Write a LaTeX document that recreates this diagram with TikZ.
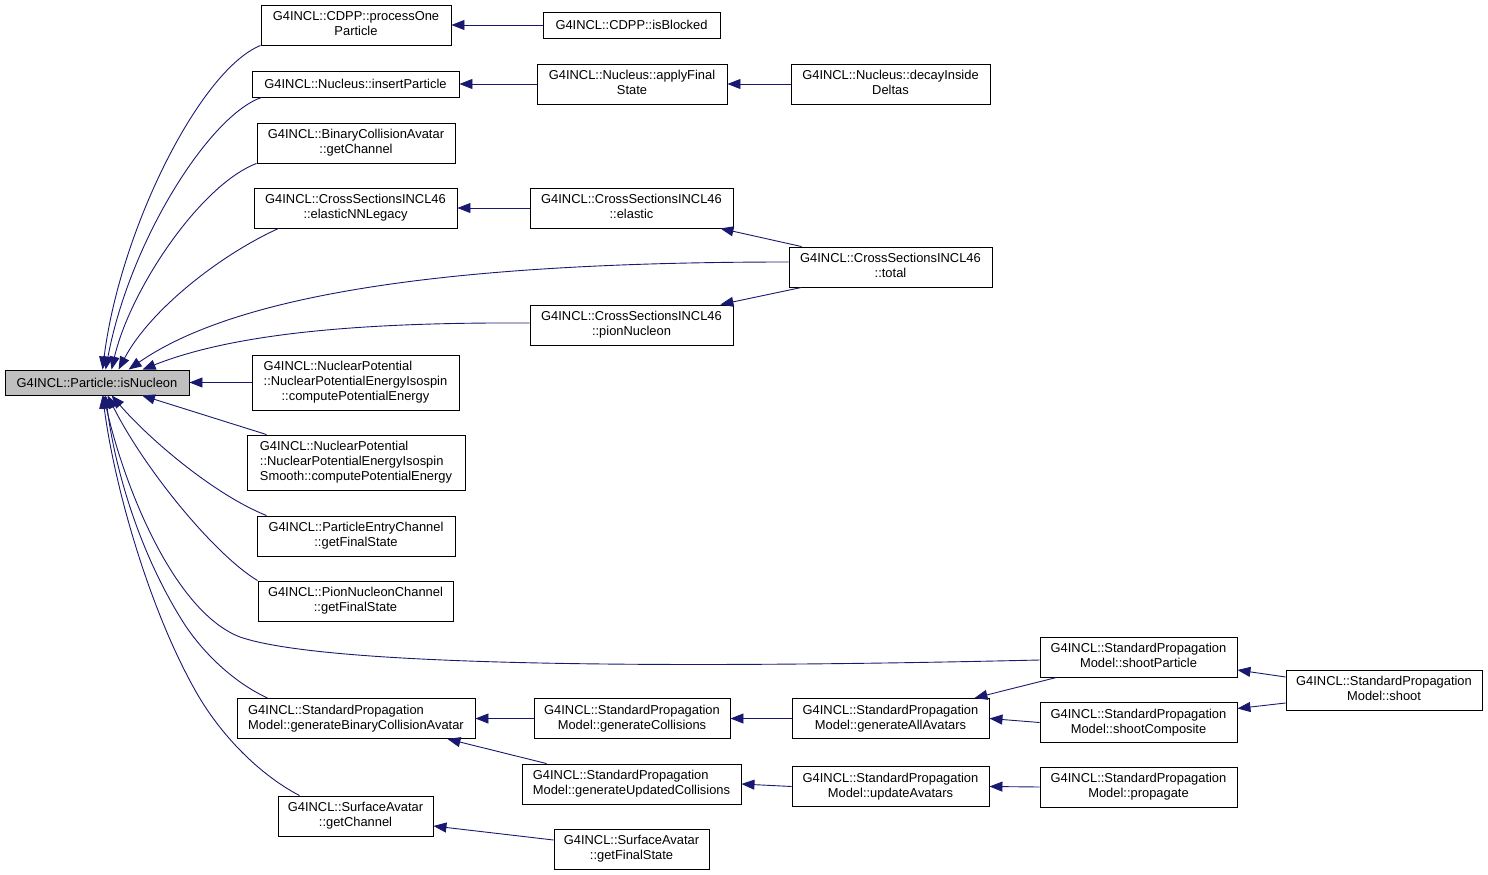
\documentclass[tikz,border=0pt]{standalone}
\usepackage{fontspec}
\setmainfont{Liberation Sans}
\usetikzlibrary{arrows.meta,calc}
\definecolor{edgecol}{HTML}{191970}
\definecolor{rootfill}{HTML}{BFBFBF}
\newcommand\twol[2]{\begin{tabular}{@{}l@{}}#1\\\multicolumn{1}{@{}c@{}}{#2}\end{tabular}}
\newcommand\threel[3]{\begin{tabular}{@{}l@{}}#1\\#2\\\multicolumn{1}{@{}c@{}}{#3}\end{tabular}}
\begin{document}
\begin{tikzpicture}[x=1pt,y=-1pt,
  fn/.style={draw=black, line width=0.9pt, fill=white, rectangle, inner sep=0pt,
    font=\fontsize{12.9}{15}\selectfont, minimum height=40pt},
  conn/.style={draw=edgecol, line width=0.9pt, -{Triangle[length=13pt,width=10pt]}}]
\useasboundingbox (0,0) rectangle (1488,875);
% nodes
\node[fn, fill=rootfill, minimum width=184pt, minimum height=25pt] (root) at (97,382.5) {G4INCL::Particle::isNucleon};
\node[fn, minimum width=190pt] (po) at (356,25) {\twol{G4INCL::CDPP::processOne}{Particle}};
\node[fn, minimum width=177pt, minimum height=26pt] (ib) at (631.5,25) {G4INCL::CDPP::isBlocked};
\node[fn, minimum width=207pt, minimum height=26pt] (ip) at (355.5,84) {G4INCL::Nucleus::insertParticle};
\node[fn, minimum width=190pt] (af) at (632,84) {\twol{G4INCL::Nucleus::applyFinal}{State}};
\node[fn, minimum width=199pt] (di) at (890.5,84) {\twol{G4INCL::Nucleus::decayInside}{Deltas}};
\node[fn, minimum width=198pt] (bca) at (356,143) {\twol{G4INCL::BinaryCollisionAvatar}{::getChannel}};
\node[fn, minimum width=203pt] (enn) at (355.5,208) {\twol{G4INCL::CrossSectionsINCL46}{::elasticNNLegacy}};
\node[fn, minimum width=203pt] (el) at (631.5,208) {\twol{G4INCL::CrossSectionsINCL46}{::elastic}};
\node[fn, minimum width=203pt] (tot) at (890.5,267) {\twol{G4INCL::CrossSectionsINCL46}{::total}};
\node[fn, minimum width=203pt] (pn) at (631.5,325) {\twol{G4INCL::CrossSectionsINCL46}{::pionNucleon}};
\node[fn, minimum width=207pt, minimum height=55pt] (np1) at (355.5,382.5) {\threel{G4INCL::NuclearPotential}{::NuclearPotentialEnergyIsospin}{::computePotentialEnergy}};
\node[fn, minimum width=218pt, minimum height=55pt] (np2) at (356,462.5) {\threel{G4INCL::NuclearPotential}{::NuclearPotentialEnergyIsospin}{Smooth::computePotentialEnergy}};
\node[fn, minimum width=198pt] (pec) at (356,536) {\twol{G4INCL::ParticleEntryChannel}{::getFinalState}};
\node[fn, minimum width=195pt] (pnc) at (355.5,601) {\twol{G4INCL::PionNucleonChannel}{::getFinalState}};
\node[fn, minimum width=197pt] (sp) at (1138.5,657) {\twol{G4INCL::StandardPropagation}{Model::shootParticle}};
\node[fn, minimum width=196pt] (sh) at (1384,690) {\twol{G4INCL::StandardPropagation}{Model::shoot}};
\node[fn, minimum width=238pt] (gbca) at (356,718.5) {\twol{G4INCL::StandardPropagation}{Model::generateBinaryCollisionAvatar}};
\node[fn, minimum width=196pt] (gc) at (632,718.5) {\twol{G4INCL::StandardPropagation}{Model::generateCollisions}};
\node[fn, minimum width=197pt] (ga) at (890.5,718.5) {\twol{G4INCL::StandardPropagation}{Model::generateAllAvatars}};
\node[fn, minimum width=197pt] (sc) at (1138.5,722.5) {\twol{G4INCL::StandardPropagation}{Model::shootComposite}};
\node[fn, minimum width=219pt] (gu) at (631.5,784) {\twol{G4INCL::StandardPropagation}{Model::generateUpdatedCollisions}};
\node[fn, minimum width=197pt] (ua) at (890.5,786.5) {\twol{G4INCL::StandardPropagation}{Model::updateAvatars}};
\node[fn, minimum width=197pt] (pr) at (1138.5,787) {\twol{G4INCL::StandardPropagation}{Model::propagate}};
\node[fn, minimum width=155pt] (sgc) at (355.5,816) {\twol{G4INCL::SurfaceAvatar}{::getChannel}};
\node[fn, minimum width=155pt] (sgf) at (631.5,849) {\twol{G4INCL::SurfaceAvatar}{::getFinalState}};
% straight connectors
\draw[conn] (ib.west) -- (po.east);
\draw[conn] (af.west) -- (ip.east);
\draw[conn] (di.west) -- (af.east);
\draw[conn] (el.west) -- (enn.east);
\draw[conn] ($(tot.north west)+(13,0)$) -- ($(el.south east)+(-13,0)$);
\draw[conn] ($(tot.south west)+(13,0)$) -- ($(pn.north east)+(-13,0)$);
\draw[conn] (np1.west) -- (root.east);
\draw[conn] ($(sh.west)+(0,-13)$) -- ($(sp.east)+(0,13)$);
\draw[conn] ($(sh.west)+(0,13)$) -- ($(sc.east)+(0,-14)$);
\draw[conn] ($(sp.south west)+(17,0)$) -- ($(ga.north east)+(-15,0)$);
\draw[conn] (sc.west) -- (ga.east);
\draw[conn] (pr.west) -- (ua.east);
\draw[conn] (ga.west) -- (gc.east);
\draw[conn] (ua.west) -- (gu.east);
\draw[conn] (gc.west) -- (gbca.east);
\draw[conn] ($(gu.north west)+(25,0)$) -- ($(gbca.south east)+(-28,0)$);
\draw[conn] ($(sgf.west)+(0,-9)$) -- ($(sgc.east)+(0,10)$);
\draw[conn] ($(np2.north west)+(20,0)$) -- ($(root.south)+(45,0)$);
% curved connectors into root
\draw[conn] (po.south west) .. controls (200,70) and (120,230) .. ($(root.north west)+(98,0)$);
\draw[conn] ($(ip.south west)+(10,0)$) .. controls (210,115) and (130,240) .. ($(root.north west)+(101,0)$);
\draw[conn] (bca.south west) .. controls (200,185) and (130,290) .. ($(root.north west)+(107,0)$);
\draw[conn] ($(enn.south west)+(25,0)$) .. controls (220,255) and (150,310) .. ($(root.north west)+(114,0)$);
\draw[conn] ($(tot.west)+(0,-5)$) .. controls (500,262) and (250,285) .. ($(root.north west)+(124,0)$);
\draw[conn] ($(pn.west)+(0,-2)$) .. controls (350,322) and (230,335) .. ($(root.north west)+(138,0)$);
\draw[conn] ($(pec.north west)+(10,0)$) .. controls (215,495) and (150,440) .. ($(root.south west)+(107,0)$);
\draw[conn] (pnc.north west) .. controls (215,555) and (145,470) .. ($(root.south west)+(103,0)$);
\draw[conn] ($(sp.west)+(0,3)$) .. controls (700,668) and (330,668) .. (240,637) .. controls (175,612) and (125,490) .. ($(root.south west)+(99,0)$);
\draw[conn] ($(gbca.north west)+(31,0)$) .. controls (235,683) and (205,655) .. (185,625) .. controls (140,555) and (115,470) .. ($(root.south west)+(101,0)$);
\draw[conn] ($(sgc.north west)+(22,0)$) .. controls (260,775) and (220,735) .. (195,690) .. controls (150,610) and (115,490) .. ($(root.south west)+(98,0)$);
\end{tikzpicture}
\end{document}
